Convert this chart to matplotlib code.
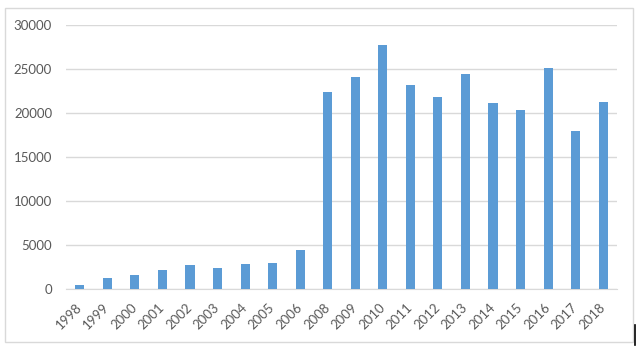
import matplotlib
matplotlib.use("Agg")
import matplotlib.pyplot as plt
from matplotlib.patches import Rectangle
from matplotlib.lines import Line2D

years = ["1998", "1999", "2000", "2001", "2002", "2003", "2004", "2005", "2006",
         "2008", "2009", "2010", "2011", "2012", "2013", "2014", "2015", "2016",
         "2017", "2018"]
values = [450, 1290, 1590, 2160, 2730, 2420, 2880, 2950, 4470,
          22390, 24090, 27730, 23180, 21820, 24430, 21140, 20340, 25110,
          17950, 21250]
yticks = [0, 5000, 10000, 15000, 20000, 25000, 30000]

plt.rcParams['font.family'] = ['Lato', 'DejaVu Sans']
fig = plt.figure(figsize=(6.39, 3.5), dpi=100)
fig.patch.set_facecolor("white")

# outer border
fig.add_artist(Rectangle((5/639, 1-342/350), 628/639, 334/350, transform=fig.transFigure,
                         fill=False, edgecolor="#d9d9d9", linewidth=1.0))
fig.add_artist(Line2D([635/639, 635/639], [1-345/350, 1-325/350], transform=fig.transFigure,
                      color="black", linewidth=1.2))

ax = fig.add_axes([66/639, 1-289/350, 551/639, 264/350])
x = list(range(len(years)))
ax.bar(x, values, width=0.33, color="#5B9BD5", zorder=3)
ax.set_xlim(-0.5, len(years) - 0.5)
ax.set_ylim(0, 30000)
ax.set_yticks(yticks)
ax.set_yticklabels([str(v) for v in yticks], color="#595959", fontsize=9.5)
ax.set_xticks(x)
ax.set_xticklabels(years, rotation=45, ha="right", va="center", rotation_mode="anchor",
                   color="#595959", fontsize=9.5)
ax.tick_params(axis="both", length=0)
ax.tick_params(axis="y", pad=10)
ax.tick_params(axis="x", pad=12)
ax.grid(axis="y", color="#d9d9d9", linewidth=1.0, zorder=0)
for s in ["top", "right", "left"]:
    ax.spines[s].set_visible(False)
ax.spines["bottom"].set_color("#d9d9d9")

fig.savefig("out.png", dpi=100)
